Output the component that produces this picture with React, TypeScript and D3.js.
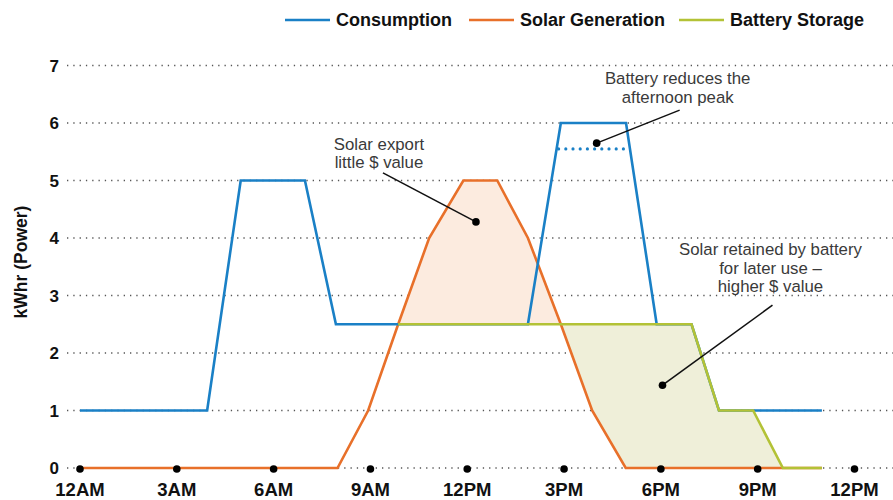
import { useEffect, useRef } from 'react'
import * as d3 from 'd3'

// axis ticks
const hourTicks = [0, 3, 6, 9, 12, 15, 18, 21, 24]
const hourLabels = ['12AM', '3AM', '6AM', '9AM', '12PM', '3PM', '6PM', '9PM', '12PM']
const powerTicks = [0, 1, 2, 3, 4, 5, 6, 7]

// series (hour of day -> kWhr), corners
const consumptionHours = [0, 3.94, 4.98, 6.97, 7.93, 13.88, 14.9, 16.92, 17.87, 18.95, 19.8, 22.99]
const consumptionValues = [1, 1, 5, 5, 2.5, 2.5, 6, 6, 2.5, 2.5, 1, 1]

const solarHours = [0, 7.98, 8.93, 9.86, 10.82, 11.88, 12.93, 13.88, 14.9, 15.87, 16.91, 22.99]
const solarValues = [0, 0, 1, 2.5, 4, 5, 5, 4, 2.5, 1, 0, 0]

const batteryHours = [9.86, 18.95, 19.8, 20.86, 21.78, 22.99]
const batteryValues = [2.5, 2.5, 1, 1, 0, 0]

// shaded regions + reduced peak
const exportBase = 2.5
const exportRange = [9.86, 14.9]
const retainedRange = [14.9, 21.78]
const reducedPeak = 5.55

const seriesNames = ['Consumption', 'Solar Generation', 'Battery Storage']
const seriesColors = ['#1a80c6', '#e8702a', '#b3c236']

// annotations: anchor in data units, text lines
const annoHours = [12.27, 16.01, 18.05]
const annoValues = [4.28, 5.65, 1.44]
const annoTexts = [
  ['Solar export', 'little $ value'],
  ['Battery reduces the', 'afternoon peak'],
  ['Solar retained by battery', 'for later use \u2013', 'higher $ value'],
]

const interp = (hs: number[], vs: number[], h: number) => {
  if (h <= hs[0]) return vs[0]
  for (let i = 1; i < hs.length; i++) {
    if (h <= hs[i]) {
      const t = (h - hs[i - 1]) / (hs[i] - hs[i - 1])
      return vs[i - 1] + t * (vs[i] - vs[i - 1])
    }
  }
  return vs[vs.length - 1]
}

const App = () => {
  const chart = useRef<SVGSVGElement | null>(null)

  useEffect(() => {
    const width = 893
    const height = 500
    const font = '"Liberation Sans", Arial, sans-serif'

    const svg = d3.select(chart.current)
    svg.selectAll('*').remove()
    svg.attr('width', width).attr('height', height)

    const x = d3.scaleLinear().domain([0, 24]).range([80, 854.5])
    const y = d3.scaleLinear().domain([0, 7]).range([468, 65.5])

    // grid lines
    const grid = svg.append('g')
    grid.selectAll('line')
      .data(powerTicks)
      .enter().append('line')
      .attr('x1', 67)
      .attr('x2', width)
      .attr('y1', d => y(d))
      .attr('y2', d => y(d))
      .attr('stroke', '#555')
      .attr('stroke-width', 1.3)
      .attr('stroke-dasharray', '1.3 5')

    grid.selectAll('text')
      .data(powerTicks)
      .enter().append('text')
      .attr('x', 59)
      .attr('y', d => y(d) + 6)
      .attr('text-anchor', 'end')
      .attr('font-family', font)
      .attr('font-weight', 'bold')
      .attr('font-size', 17)
      .attr('fill', '#111')
      .text(d => d)

    // y title
    svg.append('text')
      .attr('transform', 'translate(27,262) rotate(-90)')
      .attr('text-anchor', 'middle')
      .attr('font-family', font)
      .attr('font-weight', 'bold')
      .attr('font-size', 17.5)
      .attr('fill', '#111')
      .text('kWhr (Power)')

    // shaded areas
    const exportPts = solarHours
      .map((h, i) => [h, solarValues[i]])
      .filter(d => d[0] >= exportRange[0] && d[0] <= exportRange[1])
    svg.append('path')
      .datum(exportPts)
      .attr('d', d3.area<number[]>()
        .x(d => x(d[0]))
        .y0(y(exportBase))
        .y1(d => y(d[1])))
      .attr('fill', '#fcebdf')

    const retainedHours = Array.from(new Set([...solarHours, ...batteryHours, ...retainedRange]))
      .filter(h => h >= retainedRange[0] && h <= retainedRange[1])
      .sort((a, b) => a - b)
    svg.append('path')
      .datum(retainedHours)
      .attr('d', d3.area<number>()
        .x(h => x(h))
        .y0(h => y(interp(solarHours, solarValues, h)))
        .y1(h => y(interp(batteryHours, batteryValues, h))))
      .attr('fill', '#efefd9')

    // lines
    const line = d3.line<number[]>().x(d => x(d[0])).y(d => y(d[1]))
    const series = [
      [solarHours, solarValues, seriesColors[1]],
      [consumptionHours, consumptionValues, seriesColors[0]],
      [batteryHours, batteryValues, seriesColors[2]],
    ] as [number[], number[], string][]
    series.forEach(([hs, vs, c]) => {
      svg.append('path')
        .datum(hs.map((h, i) => [h, vs[i]]))
        .attr('d', line)
        .attr('fill', 'none')
        .attr('stroke', c)
        .attr('stroke-width', 2.6)
        .attr('stroke-linejoin', 'miter')
    })

    // reduced peak (dotted) - where consumption crosses the level
    const cross: number[] = []
    for (let i = 1; i < consumptionHours.length; i++) {
      const a = consumptionValues[i - 1], b = consumptionValues[i]
      if ((a - reducedPeak) * (b - reducedPeak) < 0) {
        const t = (reducedPeak - a) / (b - a)
        cross.push(consumptionHours[i - 1] + t * (consumptionHours[i] - consumptionHours[i - 1]))
      }
    }
    svg.append('line')
      .attr('x1', x(cross[0]) + 2)
      .attr('x2', x(cross[cross.length - 1]) - 2)
      .attr('y1', y(reducedPeak))
      .attr('y2', y(reducedPeak))
      .attr('stroke', seriesColors[0])
      .attr('stroke-width', 3.2)
      .attr('stroke-linecap', 'round')
      .attr('stroke-dasharray', '0 7.2')

    // x axis dots + labels
    svg.selectAll('circle.tick')
      .data(hourTicks)
      .enter().append('circle')
      .attr('class', 'tick')
      .attr('cx', d => x(d))
      .attr('cy', y(0) + 1)
      .attr('r', 3.8)
      .attr('fill', '#000')
    svg.selectAll('text.xlab')
      .data(hourTicks)
      .enter().append('text')
      .attr('class', 'xlab')
      .attr('x', d => x(d))
      .attr('y', 496)
      .attr('text-anchor', 'middle')
      .attr('font-family', font)
      .attr('font-weight', 'bold')
      .attr('font-size', 18.5)
      .attr('fill', '#111')
      .text((d, i) => hourLabels[i])

    // annotations
    const lineEnds = [[-93, -49], [83, -33], [110, -80]]
    const textPos = [[-97, -72], [81, -59], [108, -130]]
    annoTexts.forEach((lines, i) => {
      const ax = x(annoHours[i])
      const ay = y(annoValues[i])
      svg.append('line')
        .attr('x1', ax).attr('y1', ay)
        .attr('x2', ax + lineEnds[i][0]).attr('y2', ay + lineEnds[i][1])
        .attr('stroke', '#111')
        .attr('stroke-width', 1.6)
      svg.append('circle')
        .attr('cx', ax).attr('cy', ay)
        .attr('r', 3.8)
        .attr('fill', '#000')
      svg.append('text')
        .attr('text-anchor', 'middle')
        .attr('font-family', font)
        .attr('font-size', 16.8)
        .attr('fill', '#3a3a3a')
        .selectAll('tspan')
        .data(lines)
        .enter().append('tspan')
        .attr('x', ax + textPos[i][0])
        .attr('y', (d, j) => ay + textPos[i][1] + j * 18.5)
        .text(d => d)
    })

    // legend
    const legendX = [285, 469, 679]
    const legend = svg.append('g')
    seriesNames.forEach((name, i) => {
      legend.append('line')
        .attr('x1', legendX[i]).attr('x2', legendX[i] + 45)
        .attr('y1', 20).attr('y2', 20)
        .attr('stroke', seriesColors[i])
        .attr('stroke-width', 2.6)
      legend.append('text')
        .attr('x', legendX[i] + 51)
        .attr('y', 26)
        .attr('font-family', font)
        .attr('font-weight', 'bold')
        .attr('font-size', 18)
        .attr('fill', '#111')
        .text(name)
    })
  }, [])

  return (
    <svg ref={chart} style={{ position: 'absolute', left: 0, top: 0 }}></svg>
  )
}

export default App
